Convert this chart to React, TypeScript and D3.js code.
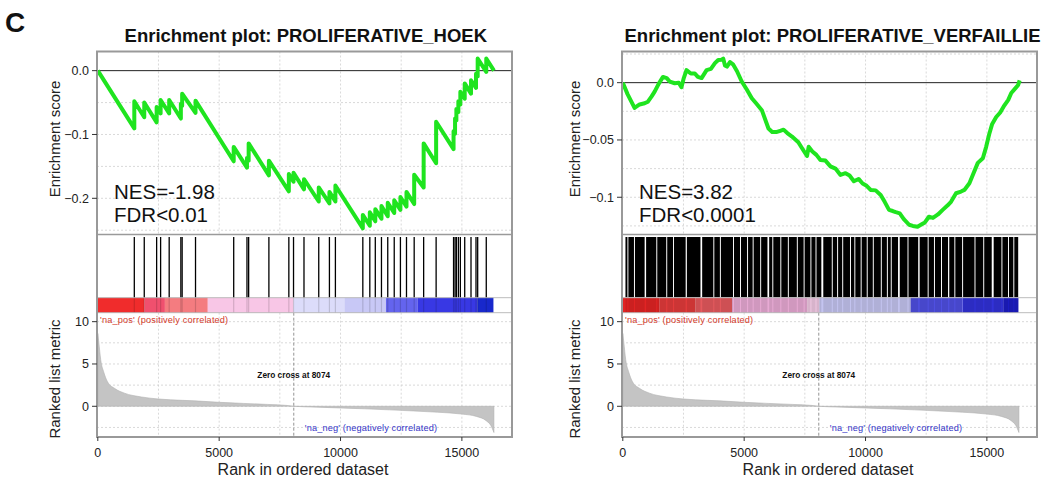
import * as d3 from 'd3';

const FONT = '"Liberation Sans", Arial, Helvetica, sans-serif';

// ---- shared ranked list ----
// [rank, ranked list metric]
const metricPoints: [number, number][] = [
  [0, 8.6], [40, 7.6], [120, 5.5], [250, 4.0], [400, 2.9], [700, 2.1], [1100, 1.55],
  [1800, 1.1], [2500, 0.86], [3500, 0.7], [4000, 0.64], [5000, 0.47], [6000, 0.34],
  [7000, 0.22], [7800, 0.1], [8070, 0.0], [9000, -0.1], [10000, -0.2], [11000, -0.3],
  [12000, -0.42], [13000, -0.55], [14000, -0.7], [15000, -0.92], [15600, -1.2],
  [16000, -1.7], [16200, -2.3], [16320, -3.1],
];
const zeroCross = 8074;

const xTicks = [0, 5000, 10000, 15000];
const xGrid = [2500, 5000, 7500, 10000, 12500, 15000];
const metricTicks = [0, 5, 10];
const metricGrid = [-2.5, 0, 2.5, 5, 7.5, 10];

// ---- PROLIFERATIVE_HOEK ----
const hoekHits = [
  1504, 1914, 2424, 2588, 2941, 3422, 3475, 4026, 5599, 6146, 6215, 7049, 7871, 8064,
  8495, 9103, 9543, 9789, 10919, 11207, 11433, 11687, 11946, 12213, 12468, 12718, 13035,
  13425, 13939, 14657, 14719, 14773, 14855, 14937, 15117, 15376, 15582, 15651, 16005,
];
// running enrichment score [rank, es]
const hoekEs: [number, number][] = [
  [0, 0],
  [1504, -0.0905], [1504, -0.048],
  [1914, -0.073], [1914, -0.05],
  [2424, -0.081], [2424, -0.057],
  [2588, -0.067], [2588, -0.046],
  [2941, -0.067], [2941, -0.046],
  [3422, -0.075], [3422, -0.052],
  [3475, -0.055], [3475, -0.036],
  [4026, -0.066], [4026, -0.047],
  [5599, -0.142], [5599, -0.1195],
  [6146, -0.152], [6146, -0.137],
  [6215, -0.141], [6215, -0.114],
  [7049, -0.164], [7049, -0.141],
  [7871, -0.189], [7871, -0.162],
  [8064, -0.174], [8064, -0.16],
  [8495, -0.186], [8495, -0.17],
  [9103, -0.205], [9103, -0.183],
  [9543, -0.208], [9543, -0.19],
  [9789, -0.205], [9789, -0.18],
  [10919, -0.247], [10919, -0.226],
  [11207, -0.243], [11207, -0.222],
  [11433, -0.236], [11433, -0.217],
  [11687, -0.232], [11687, -0.212],
  [11946, -0.228], [11946, -0.207],
  [12213, -0.223], [12213, -0.203],
  [12468, -0.218], [12468, -0.198],
  [12718, -0.213], [12718, -0.19],
  [13035, -0.209], [13035, -0.163],
  [13425, -0.183], [13425, -0.114],
  [13939, -0.145], [13939, -0.08],
  [14657, -0.123], [14657, -0.095],
  [14719, -0.099], [14719, -0.075],
  [14773, -0.078], [14773, -0.06],
  [14855, -0.065], [14855, -0.048],
  [14937, -0.053], [14937, -0.033],
  [15117, -0.044], [15117, -0.02],
  [15376, -0.036], [15376, -0.015],
  [15582, -0.027], [15582, -0.005],
  [15651, -0.009], [15651, 0.019],
  [16005, -0.002], [16005, 0.019],
  [16321, 0.0],
];
// [from rank, to rank, colour]
const hoekBar: [number, number, string][] = [
  [0, 1923, '#f02c2c'], [1923, 2765, '#f0506e'], [2765, 4531, '#f47c80'],
  [4531, 8064, '#f8c6e6'], [8064, 10159, '#dcdcfa'], [10159, 11872, '#c8c8f6'],
  [11872, 13170, '#6464ee'], [13170, 15636, '#3838e4'], [15636, 16300, '#1828cc'],
];

// ---- PROLIFERATIVE_VERFAILLIE ----
const verfEs: [number, number][] = [
  [0, 0], [195, -0.01], [484, -0.022], [691, -0.019], [898, -0.018], [1035, -0.0166],
  [1188, -0.012], [1312, -0.0078], [1478, -0.001], [1656, 0.005], [1809, 0.004],
  [1933, 0.001], [2140, -0.0005], [2305, 0.0], [2417, -0.004], [2512, 0.004],
  [2624, 0.011], [2802, 0.008], [2968, 0.008], [3092, 0.005], [3245, 0.004],
  [3452, 0.011], [3630, 0.012], [3796, 0.017], [3932, 0.0198], [4073, 0.02],
  [4139, 0.021], [4209, 0.015], [4292, 0.014], [4416, 0.018], [4540, 0.016],
  [4706, 0.01], [4900, 0.001], [5108, -0.006], [5315, -0.0136], [5492, -0.018],
  [5728, -0.024], [6002, -0.04], [6155, -0.043], [6349, -0.043], [6486, -0.042],
  [6622, -0.041], [6776, -0.044], [6970, -0.047], [7231, -0.052], [7438, -0.059],
  [7591, -0.064], [7657, -0.056], [7810, -0.06], [7976, -0.063], [8142, -0.0675],
  [8348, -0.068], [8555, -0.073], [8762, -0.075], [8969, -0.0805], [9176, -0.079],
  [9342, -0.081], [9520, -0.086], [9714, -0.084], [9880, -0.088], [10045, -0.09],
  [10211, -0.0936], [10418, -0.094], [10625, -0.098], [10790, -0.104], [10968, -0.111],
  [11122, -0.112], [11246, -0.113], [11411, -0.114], [11577, -0.119], [11796, -0.124],
  [11949, -0.125], [12144, -0.1257], [12281, -0.124], [12446, -0.122], [12612, -0.117],
  [12778, -0.118], [12984, -0.115], [13179, -0.111], [13386, -0.107], [13522, -0.104],
  [13729, -0.0965], [13936, -0.095], [14073, -0.0936], [14280, -0.0878], [14433, -0.08],
  [14627, -0.07], [14834, -0.066], [14970, -0.056], [15095, -0.045], [15219, -0.036],
  [15385, -0.03], [15550, -0.026], [15716, -0.02], [15881, -0.015], [16005, -0.009],
  [16170, -0.005], [16290, -0.002], [16350, 0.002],
];
// the gene set is dense: hits cover this span except for the gaps below
const verfHitSpan: [number, number] = [110, 16290];
const verfGaps: [number, number][] = [
  [190, 230], [460, 500], [900, 960], [1380, 1420], [1790, 1830], [2070, 2110],
  [2590, 2640], [3200, 3270], [3730, 3770], [4000, 4040], [4540, 4580], [4830, 4870],
  [5120, 5160], [5350, 5390], [5660, 5700], [5960, 6030], [6160, 6200], [6490, 6530],
  [6800, 6840], [7170, 7210], [7450, 7490], [7730, 7770], [7940, 7980], [8180, 8260],
  [8610, 8650], [8830, 8870], [9040, 9080], [9360, 9400], [9540, 9580], [9800, 9840],
  [10050, 10090], [10300, 10340], [10630, 10670], [10880, 10920], [11040, 11080],
  [11340, 11410], [11730, 11770], [12170, 12230], [12560, 12600], [12820, 12860],
  [13110, 13150], [13400, 13450], [13660, 13700], [13980, 14020], [14490, 14530],
  [14850, 14890], [15200, 15280], [15600, 15640], [15870, 15910], [16090, 16130],
];
const verfBar: [number, number, string][] = [
  [0, 1500, '#e22424'], [1500, 3000, '#e43c3c'], [3000, 4500, '#e65a5e'],
  [4500, 7600, '#e8aad4'], [7600, 8100, '#f0c8e2'], [8100, 11860, '#c4c4f0'],
  [11860, 14000, '#5050e2'], [14000, 15700, '#3232d8'], [15700, 16300, '#1c1cc4'],
];

// ---- layout ----
const TOP = 51.5;
const ES_BOTTOM = 234.5;
const HIT_TOP = 237;
const BAR_TOP = 297.7;
const BAR_BOTTOM = 312.7;
const BOTTOM = 437;
const FRAME_W = 415;
const GREEN = '#1fe41f';

type PanelProps = {
  left: number;
  title: string;
  titleX: number;
  yLabelX: number;
  esDomain: [number, number];
  esTicks: number[];
  esGrid: number[];
  esFormat: (d: number) => string;
  es: [number, number][];
  hitLines?: number[];
  hitBlocks?: [number, number][];
  bar: [number, number, string][];
  nes: string;
  fdr: string;
};

function Panel(p: PanelProps) {
  const right = p.left + FRAME_W;
  const x = d3.scaleLinear().domain([0, 17000]).range([p.left + 0.8, p.left + 0.8 + 17000 / 41.2]);
  const yEs = d3.scaleLinear().domain(p.esDomain).range([ES_BOTTOM, TOP]);
  const yM = d3.scaleLinear().domain([-3.63, 11.06]).range([BOTTOM, BAR_BOTTOM]);

  const esLine = d3.line<[number, number]>().x(d => x(d[0])).y(d => yEs(d[1]));
  const metricArea = d3.area<[number, number]>()
    .x(d => x(d[0]))
    .y0(yM(0))
    .y1(d => yM(d[1]))
    .curve(d3.curveMonotoneX);

  const grid = { stroke: '#cfcfcf', strokeWidth: 0.8, strokeDasharray: '2,2' };
  const zx = x(zeroCross);

  return (
    <g fontFamily={FONT}>
      <text x={p.titleX} y={41.5} textAnchor="middle" fontWeight="bold" fontSize={18.5} fill="#111">
        {p.title}
      </text>

      {/* ES grid */}
      {xGrid.map(t => (
        <line key={'gx' + t} x1={x(t)} x2={x(t)} y1={TOP} y2={ES_BOTTOM} {...grid} />
      ))}
      {p.esGrid.map(t => (
        <line key={'gy' + t} x1={p.left} x2={right} y1={yEs(t)} y2={yEs(t)} {...grid} />
      ))}
      <line x1={p.left} x2={right} y1={yEs(0)} y2={yEs(0)} stroke="#222" strokeWidth={1} />

      {/* metric grid */}
      {xGrid.map(t => (
        <line key={'mx' + t} x1={x(t)} x2={x(t)} y1={BAR_BOTTOM} y2={BOTTOM} {...grid} />
      ))}
      {metricGrid.map(t => (
        <line key={'my' + t} x1={p.left} x2={right} y1={yM(t)} y2={yM(t)} {...grid} />
      ))}

      {/* ranked list metric */}
      <path d={metricArea(metricPoints) ?? ''} fill="#c4c4c4" stroke="#b0b0b0" strokeWidth={0.6} />
      <line x1={zx} x2={zx} y1={BAR_BOTTOM} y2={BOTTOM} stroke="#888" strokeWidth={0.9} strokeDasharray="3,2" />
      <text x={zx} y={378.3} textAnchor="middle" fontSize={8.3} fontWeight="bold" fill="#111">
        Zero cross at {zeroCross}
      </text>
      <text x={p.left + 3} y={322.7} fontSize={9.2} fill="#d33a2c" letterSpacing={0.15}>
        'na_pos' (positively correlated)
      </text>
      <text x={zx + 11} y={430.7} fontSize={9.2} fill="#3434c8" letterSpacing={0.15}>
        'na_neg' (negatively correlated)
      </text>

      {/* colour bar */}
      {p.bar.map(([a, b, c]) => (
        <rect key={'b' + a} x={x(a)} width={x(b) - x(a)} y={BAR_TOP} height={BAR_BOTTOM - BAR_TOP} fill={c} />
      ))}

      {/* hits */}
      {p.hitLines?.map(h => (
        <g key={'h' + h}>
          <line x1={x(h)} x2={x(h)} y1={HIT_TOP} y2={BAR_TOP} stroke="#000" strokeWidth={1.3} />
          <line x1={x(h)} x2={x(h)} y1={BAR_TOP} y2={BAR_BOTTOM} stroke="#000" strokeOpacity={0.15} strokeWidth={1.2} />
        </g>
      ))}
      {p.hitBlocks?.map(([a, b]) => (
        <g key={'hb' + a}>
          <rect x={x(a)} width={x(b) - x(a)} y={HIT_TOP} height={BAR_TOP - HIT_TOP - 0.5} fill="#000" />
          <rect x={x(a)} width={x(b) - x(a)} y={BAR_TOP} height={BAR_BOTTOM - BAR_TOP} fill="#000" fillOpacity={0.1} />
        </g>
      ))}

      {/* separators */}
      <line x1={p.left} x2={right} y1={ES_BOTTOM} y2={ES_BOTTOM} stroke="#9a9a9a" strokeWidth={1.6} />
      <line x1={p.left} x2={right} y1={BAR_TOP} y2={BAR_TOP} stroke="#b4b4b4" strokeWidth={0.9} />
      <line x1={p.left} x2={right} y1={BAR_BOTTOM} y2={BAR_BOTTOM} stroke="#b4b4b4" strokeWidth={0.9} />

      {/* running ES */}
      <path d={esLine(p.es) ?? ''} fill="none" stroke={GREEN} strokeWidth={4} strokeLinejoin="round" />

      <text x={p.left + 17} y={199.3} fontSize={20.5} fill="#111">{p.nes}</text>
      <text x={p.left + 17} y={221.7} fontSize={20.5} fill="#111">{p.fdr}</text>

      {/* frame */}
      <rect x={p.left} y={TOP} width={FRAME_W} height={BOTTOM - TOP} fill="none" stroke="#999" strokeWidth={2} />

      {/* axes */}
      {p.esTicks.map(t => (
        <g key={'et' + t}>
          <line x1={p.left - 5} x2={p.left} y1={yEs(t)} y2={yEs(t)} stroke="#333" strokeWidth={1} />
          <text x={p.left - 8} y={yEs(t)} dy="0.36em" textAnchor="end" fontSize={12.5} fill="#222">
            {p.esFormat(t)}
          </text>
        </g>
      ))}
      {metricTicks.map(t => (
        <g key={'mt' + t}>
          <line x1={p.left - 5} x2={p.left} y1={yM(t)} y2={yM(t)} stroke="#333" strokeWidth={1} />
          <text x={p.left - 8} y={yM(t)} dy="0.36em" textAnchor="end" fontSize={12.5} fill="#222">
            {t}
          </text>
        </g>
      ))}
      {xTicks.map(t => (
        <g key={'xt' + t}>
          <line x1={x(t)} x2={x(t)} y1={BOTTOM} y2={BOTTOM + 4} stroke="#333" strokeWidth={1} />
          <text x={x(t)} y={456.5} textAnchor="middle" fontSize={12.5} fill="#222">{t}</text>
        </g>
      ))}

      <text transform={`translate(${p.yLabelX},${(TOP + ES_BOTTOM) / 2 - 4}) rotate(-90)`} textAnchor="middle" fontSize={15} fill="#222">
        Enrichment score
      </text>
      <text transform={`translate(${p.yLabelX},379) rotate(-90)`} textAnchor="middle" fontSize={15} fill="#222">
        Ranked list metric
      </text>
      <text x={p.left + 206} y={475} textAnchor="middle" fontSize={16} fill="#222">
        Rank in ordered dataset
      </text>
    </g>
  );
}

function blocksFromGaps(span: [number, number], gaps: [number, number][]): [number, number][] {
  const out: [number, number][] = [];
  let start = span[0];
  gaps.forEach(([a, b]) => {
    if (a > start) out.push([start, a]);
    start = b;
  });
  if (span[1] > start) out.push([start, span[1]]);
  return out;
}

export default function App() {
  const verfBlocks = blocksFromGaps(verfHitSpan, verfGaps);
  return (
    <svg
      width={1045}
      height={479}
      style={{ position: 'absolute', left: 0, top: 0, background: '#fff' }}
    >
      <rect width={1045} height={479} fill="#fff" />
      <text x={5} y={31.7} fontFamily={FONT} fontWeight="bold" fontSize={28} fill="#111">C</text>
      <Panel
        left={97}
        title="Enrichment plot: PROLIFERATIVE_HOEK"
        titleX={305.8}
        yLabelX={60}
        esDomain={[-0.2567, 0.03]}
        esTicks={[0, -0.1, -0.2]}
        esGrid={[-0.25, -0.2, -0.15, -0.1, -0.05]}
        esFormat={d => d3.format('.1f')(d)}
        es={hoekEs}
        hitLines={hoekHits}
        bar={hoekBar}
        nes="NES=-1.98"
        fdr="FDR<0.01"
      />
      <Panel
        left={622}
        title="Enrichment plot: PROLIFERATIVE_VERFAILLIE"
        titleX={832.5}
        yLabelX={580}
        esDomain={[-0.1325, 0.0272]}
        esTicks={[0, -0.05, -0.1]}
        esGrid={[-0.125, -0.1, -0.075, -0.05, -0.025, 0.025]}
        esFormat={d => (d === 0 ? '0.0' : d3.format('.2~f')(d))}
        es={verfEs}
        hitBlocks={verfBlocks}
        bar={verfBar}
        nes="NES=3.82"
        fdr="FDR<0.0001"
      />
    </svg>
  );
}
